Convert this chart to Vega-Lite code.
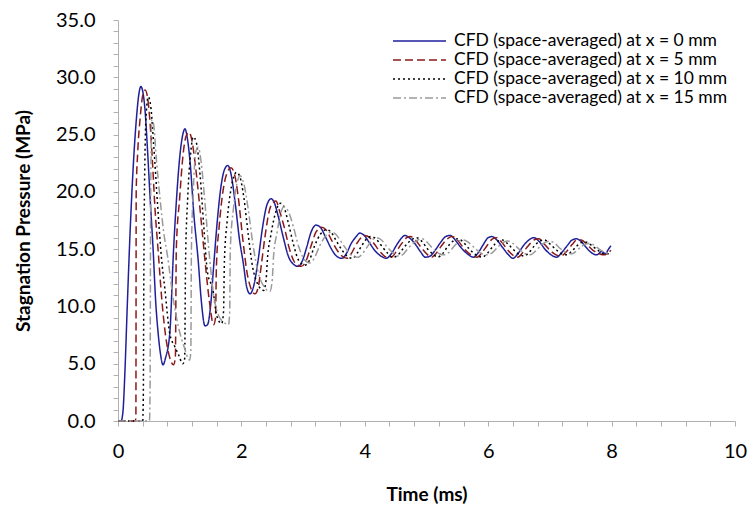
{
  "$schema": "https://vega.github.io/schema/vega-lite/v6.json",
  "width": 617,
  "height": 401,
  "autosize": "none",
  "padding": {"left": 118, "top": 20, "right": 21, "bottom": 91},
  "background": "white",
  "config": {"view": {"stroke": null}, "font": "Lato"},
  "data": {"values": [
{"s":"0","t":0,"p":0},{"s":"0","t":0.05,"p":0},{"s":"0","t":0.08,"p":0.8},{"s":"0","t":0.11,"p":4},{"s":"0","t":0.15,"p":10},{"s":"0","t":0.2,"p":17},{"s":"0","t":0.25,"p":22.5},{"s":"0","t":0.3,"p":26.5},{"s":"0","t":0.34,"p":28.6},{"s":"0","t":0.37,"p":29.2},{"s":"0","t":0.4,"p":28.8},{"s":"0","t":0.44,"p":27},{"s":"0","t":0.48,"p":23.5},{"s":"0","t":0.52,"p":19.5},{"s":"0","t":0.57,"p":14.9},{"s":"0","t":0.61,"p":10.5},{"s":"0","t":0.65,"p":7.7},{"s":"0","t":0.69,"p":5.8},{"s":"0","t":0.73,"p":4.9},{"s":"0","t":0.77,"p":5.5},{"s":"0","t":0.84,"p":7.7},{"s":"0","t":0.9,"p":14.9},{"s":"0","t":0.95,"p":19.5},{"s":"0","t":1.0,"p":23},{"s":"0","t":1.05,"p":25},{"s":"0","t":1.086,"p":25.5},{"s":"0","t":1.12,"p":24.8},{"s":"0","t":1.17,"p":22.5},{"s":"0","t":1.23,"p":18},{"s":"0","t":1.3,"p":14},{"s":"0","t":1.35,"p":10.5},{"s":"0","t":1.41,"p":8.3},{"s":"0","t":1.45,"p":8.4},{"s":"0","t":1.5,"p":10},{"s":"0","t":1.55,"p":13.5},{"s":"0","t":1.61,"p":17.5},{"s":"0","t":1.67,"p":20.5},{"s":"0","t":1.73,"p":22},{"s":"0","t":1.78,"p":22.3},{"s":"0","t":1.83,"p":21.6},{"s":"0","t":1.9,"p":19},{"s":"0","t":1.97,"p":15.8},{"s":"0","t":2.03,"p":13.8},{"s":"0","t":2.09,"p":11.6},{"s":"0","t":2.14,"p":11.1},{"s":"0","t":2.2,"p":11.8},{"s":"0","t":2.27,"p":14},{"s":"0","t":2.34,"p":16.8},{"s":"0","t":2.41,"p":18.8},{"s":"0","t":2.48,"p":19.4},{"s":"0","t":2.53,"p":19.1},{"s":"0","t":2.6,"p":17.8},{"s":"0","t":2.68,"p":16},{"s":"0","t":2.76,"p":14.4},{"s":"0","t":2.84,"p":13.7},{"s":"0","t":2.92,"p":13.5},{"s":"0","t":2.99,"p":14},{"s":"0","t":3.06,"p":15.2},{"s":"0","t":3.13,"p":16.5},{"s":"0","t":3.21,"p":17.1},{"s":"0","t":3.28,"p":16.9},{"s":"0","t":3.36,"p":16.1},{"s":"0","t":3.45,"p":15.1},{"s":"0","t":3.54,"p":14.4},{"s":"0","t":3.63,"p":14.2},{"s":"0","t":3.7,"p":14.6},{"s":"0","t":3.78,"p":15.5},{"s":"0","t":3.86,"p":16.1},{"s":"0","t":3.92,"p":16.4},{"s":"0","t":3.99,"p":16.2},{"s":"0","t":4.07,"p":15.6},{"s":"0","t":4.16,"p":14.9},{"s":"0","t":4.26,"p":14.4},{"s":"0","t":4.35,"p":14.2},{"s":"0","t":4.43,"p":14.6},{"s":"0","t":4.52,"p":15.4},{"s":"0","t":4.6,"p":16.0},{"s":"0","t":4.65,"p":16.2},{"s":"0","t":4.72,"p":16.0},{"s":"0","t":4.81,"p":15.5},{"s":"0","t":4.9,"p":14.8},{"s":"0","t":4.98,"p":14.3},{"s":"0","t":5.06,"p":14.4},{"s":"0","t":5.14,"p":14.9},{"s":"0","t":5.23,"p":15.6},{"s":"0","t":5.31,"p":16.1},{"s":"0","t":5.38,"p":16.2},{"s":"0","t":5.45,"p":15.9},{"s":"0","t":5.55,"p":15.2},{"s":"0","t":5.66,"p":14.6},{"s":"0","t":5.76,"p":14.3},{"s":"0","t":5.84,"p":14.7},{"s":"0","t":5.92,"p":15.4},{"s":"0","t":6.0,"p":16.0},{"s":"0","t":6.06,"p":16.1},{"s":"0","t":6.14,"p":15.8},{"s":"0","t":6.24,"p":15.1},{"s":"0","t":6.33,"p":14.5},{"s":"0","t":6.4,"p":14.2},{"s":"0","t":6.48,"p":14.6},{"s":"0","t":6.57,"p":15.3},{"s":"0","t":6.66,"p":15.8},{"s":"0","t":6.74,"p":16.0},{"s":"0","t":6.82,"p":15.7},{"s":"0","t":6.92,"p":15.0},{"s":"0","t":7.02,"p":14.5},{"s":"0","t":7.11,"p":14.3},{"s":"0","t":7.19,"p":14.7},{"s":"0","t":7.28,"p":15.3},{"s":"0","t":7.36,"p":15.8},{"s":"0","t":7.43,"p":15.9},{"s":"0","t":7.5,"p":15.7},{"s":"0","t":7.58,"p":15.2},{"s":"0","t":7.67,"p":14.7},{"s":"0","t":7.76,"p":14.5},{"s":"0","t":7.84,"p":14.8},{"s":"0","t":7.9,"p":14.6},{"s":"0","t":7.95,"p":15.0},{"s":"0","t":7.99,"p":15.3},
{"s":"5","t":0,"p":0},{"s":"5","t":0.28,"p":0},{"s":"5","t":0.29,"p":0.3},{"s":"5","t":0.295,"p":20},{"s":"5","t":0.32,"p":23.5},{"s":"5","t":0.36,"p":26.5},{"s":"5","t":0.4,"p":28.4},{"s":"5","t":0.44,"p":28.9},{"s":"5","t":0.48,"p":28.2},{"s":"5","t":0.52,"p":26},{"s":"5","t":0.56,"p":22.5},{"s":"5","t":0.6,"p":18.5},{"s":"5","t":0.65,"p":14.9},{"s":"5","t":0.71,"p":10.6},{"s":"5","t":0.77,"p":7.5},{"s":"5","t":0.84,"p":5.5},{"s":"5","t":0.9,"p":4.9},{"s":"5","t":0.93,"p":5.6},{"s":"5","t":0.945,"p":15},{"s":"5","t":1.0,"p":19.5},{"s":"5","t":1.05,"p":23},{"s":"5","t":1.1,"p":24.8},{"s":"5","t":1.15,"p":25.2},{"s":"5","t":1.19,"p":24.7},{"s":"5","t":1.25,"p":22.5},{"s":"5","t":1.32,"p":19},{"s":"5","t":1.41,"p":14.0},{"s":"5","t":1.48,"p":10.5},{"s":"5","t":1.55,"p":8.4},{"s":"5","t":1.58,"p":9},{"s":"5","t":1.595,"p":13.5},{"s":"5","t":1.64,"p":17},{"s":"5","t":1.7,"p":20},{"s":"5","t":1.77,"p":21.7},{"s":"5","t":1.83,"p":22.1},{"s":"5","t":1.88,"p":21.7},{"s":"5","t":1.95,"p":19.5},{"s":"5","t":2.02,"p":16},{"s":"5","t":2.09,"p":13},{"s":"5","t":2.16,"p":11.5},{"s":"5","t":2.22,"p":11.1},{"s":"5","t":2.27,"p":11.6},{"s":"5","t":2.32,"p":13.5},{"s":"5","t":2.38,"p":16},{"s":"5","t":2.45,"p":18.3},{"s":"5","t":2.52,"p":19.1},{"s":"5","t":2.56,"p":19.2},{"s":"5","t":2.62,"p":18.3},{"s":"5","t":2.7,"p":16.8},{"s":"5","t":2.78,"p":15.0},{"s":"5","t":2.87,"p":13.8},{"s":"5","t":2.97,"p":13.5},{"s":"5","t":3.05,"p":14.0},{"s":"5","t":3.13,"p":15.3},{"s":"5","t":3.21,"p":16.5},{"s":"5","t":3.3,"p":16.9},{"s":"5","t":3.37,"p":16.7},{"s":"5","t":3.45,"p":15.9},{"s":"5","t":3.54,"p":15.0},{"s":"5","t":3.63,"p":14.4},{"s":"5","t":3.71,"p":14.2},{"s":"5","t":3.78,"p":14.6},{"s":"5","t":3.86,"p":15.4},{"s":"5","t":3.94,"p":16.0},{"s":"5","t":4.0,"p":16.2},{"s":"5","t":4.08,"p":16.0},{"s":"5","t":4.16,"p":15.4},{"s":"5","t":4.26,"p":14.7},{"s":"5","t":4.35,"p":14.3},{"s":"5","t":4.43,"p":14.3},{"s":"5","t":4.51,"p":14.8},{"s":"5","t":4.6,"p":15.5},{"s":"5","t":4.68,"p":16.0},{"s":"5","t":4.74,"p":16.1},{"s":"5","t":4.82,"p":15.8},{"s":"5","t":4.92,"p":15.1},{"s":"5","t":5.02,"p":14.5},{"s":"5","t":5.08,"p":14.3},{"s":"5","t":5.15,"p":14.6},{"s":"5","t":5.23,"p":15.2},{"s":"5","t":5.32,"p":15.8},{"s":"5","t":5.41,"p":16.1},{"s":"5","t":5.5,"p":15.8},{"s":"5","t":5.6,"p":15.1},{"s":"5","t":5.72,"p":14.5},{"s":"5","t":5.82,"p":14.3},{"s":"5","t":5.9,"p":14.7},{"s":"5","t":5.98,"p":15.3},{"s":"5","t":6.07,"p":15.9},{"s":"5","t":6.14,"p":16.0},{"s":"5","t":6.22,"p":15.6},{"s":"5","t":6.32,"p":14.9},{"s":"5","t":6.42,"p":14.4},{"s":"5","t":6.48,"p":14.3},{"s":"5","t":6.56,"p":14.7},{"s":"5","t":6.65,"p":15.3},{"s":"5","t":6.74,"p":15.8},{"s":"5","t":6.82,"p":15.9},{"s":"5","t":6.9,"p":15.5},{"s":"5","t":7.0,"p":14.9},{"s":"5","t":7.1,"p":14.5},{"s":"5","t":7.18,"p":14.4},{"s":"5","t":7.27,"p":14.8},{"s":"5","t":7.36,"p":15.4},{"s":"5","t":7.44,"p":15.8},{"s":"5","t":7.51,"p":15.8},{"s":"5","t":7.6,"p":15.4},{"s":"5","t":7.7,"p":14.9},{"s":"5","t":7.8,"p":14.6},{"s":"5","t":7.88,"p":14.5},{"s":"5","t":7.95,"p":14.7},{"s":"5","t":7.99,"p":14.9},
{"s":"10","t":0,"p":0},{"s":"10","t":0.4,"p":0},{"s":"10","t":0.41,"p":2},{"s":"10","t":0.42,"p":14},{"s":"10","t":0.44,"p":24},{"s":"10","t":0.46,"p":27},{"s":"10","t":0.49,"p":28.3},{"s":"10","t":0.53,"p":27.5},{"s":"10","t":0.58,"p":24},{"s":"10","t":0.64,"p":19},{"s":"10","t":0.7,"p":14.5},{"s":"10","t":0.76,"p":11.5},{"s":"10","t":0.84,"p":7.6},{"s":"10","t":0.92,"p":6.5},{"s":"10","t":0.98,"p":5.8},{"s":"10","t":1.05,"p":5.0},{"s":"10","t":1.08,"p":5.4},{"s":"10","t":1.095,"p":14},{"s":"10","t":1.13,"p":19.5},{"s":"10","t":1.18,"p":23.5},{"s":"10","t":1.22,"p":24.8},{"s":"10","t":1.27,"p":24.3},{"s":"10","t":1.33,"p":21.5},{"s":"10","t":1.39,"p":17},{"s":"10","t":1.45,"p":13},{"s":"10","t":1.54,"p":11.4},{"s":"10","t":1.6,"p":9.2},{"s":"10","t":1.68,"p":8.5},{"s":"10","t":1.71,"p":9.5},{"s":"10","t":1.725,"p":14},{"s":"10","t":1.77,"p":17.5},{"s":"10","t":1.84,"p":20.5},{"s":"10","t":1.92,"p":21.7},{"s":"10","t":1.97,"p":21.4},{"s":"10","t":2.04,"p":19.5},{"s":"10","t":2.11,"p":16.3},{"s":"10","t":2.18,"p":13.5},{"s":"10","t":2.26,"p":12},{"s":"10","t":2.36,"p":11.4},{"s":"10","t":2.4,"p":12.3},{"s":"10","t":2.42,"p":14},{"s":"10","t":2.48,"p":16.3},{"s":"10","t":2.56,"p":18.3},{"s":"10","t":2.63,"p":19.0},{"s":"10","t":2.68,"p":18.8},{"s":"10","t":2.76,"p":17.3},{"s":"10","t":2.84,"p":15.5},{"s":"10","t":2.93,"p":14.0},{"s":"10","t":3.03,"p":13.6},{"s":"10","t":3.1,"p":14.0},{"s":"10","t":3.18,"p":15.2},{"s":"10","t":3.28,"p":16.3},{"s":"10","t":3.38,"p":16.7},{"s":"10","t":3.45,"p":16.5},{"s":"10","t":3.53,"p":15.8},{"s":"10","t":3.62,"p":15.0},{"s":"10","t":3.71,"p":14.4},{"s":"10","t":3.8,"p":14.2},{"s":"10","t":3.87,"p":14.6},{"s":"10","t":3.95,"p":15.3},{"s":"10","t":4.03,"p":15.9},{"s":"10","t":4.1,"p":16.1},{"s":"10","t":4.18,"p":15.9},{"s":"10","t":4.27,"p":15.3},{"s":"10","t":4.36,"p":14.7},{"s":"10","t":4.45,"p":14.3},{"s":"10","t":4.52,"p":14.4},{"s":"10","t":4.6,"p":14.9},{"s":"10","t":4.69,"p":15.5},{"s":"10","t":4.78,"p":15.9},{"s":"10","t":4.84,"p":16.0},{"s":"10","t":4.92,"p":15.7},{"s":"10","t":5.02,"p":15.0},{"s":"10","t":5.12,"p":14.5},{"s":"10","t":5.18,"p":14.3},{"s":"10","t":5.26,"p":14.6},{"s":"10","t":5.34,"p":15.2},{"s":"10","t":5.43,"p":15.7},{"s":"10","t":5.5,"p":15.9},{"s":"10","t":5.58,"p":15.7},{"s":"10","t":5.68,"p":15.1},{"s":"10","t":5.8,"p":14.5},{"s":"10","t":5.9,"p":14.3},{"s":"10","t":5.98,"p":14.6},{"s":"10","t":6.07,"p":15.2},{"s":"10","t":6.16,"p":15.7},{"s":"10","t":6.23,"p":15.8},{"s":"10","t":6.31,"p":15.5},{"s":"10","t":6.42,"p":14.9},{"s":"10","t":6.52,"p":14.5},{"s":"10","t":6.58,"p":14.4},{"s":"10","t":6.66,"p":14.7},{"s":"10","t":6.75,"p":15.3},{"s":"10","t":6.84,"p":15.7},{"s":"10","t":6.91,"p":15.8},{"s":"10","t":6.99,"p":15.5},{"s":"10","t":7.09,"p":15.0},{"s":"10","t":7.19,"p":14.6},{"s":"10","t":7.27,"p":14.5},{"s":"10","t":7.35,"p":14.8},{"s":"10","t":7.44,"p":15.3},{"s":"10","t":7.53,"p":15.6},{"s":"10","t":7.6,"p":15.6},{"s":"10","t":7.68,"p":15.3},{"s":"10","t":7.78,"p":14.9},{"s":"10","t":7.88,"p":14.6},{"s":"10","t":7.95,"p":14.6},{"s":"10","t":7.99,"p":14.7},
{"s":"15","t":0,"p":0},{"s":"15","t":0.51,"p":0},{"s":"15","t":0.52,"p":3},{"s":"15","t":0.53,"p":20},{"s":"15","t":0.55,"p":26.3},{"s":"15","t":0.58,"p":25.8},{"s":"15","t":0.62,"p":23},{"s":"15","t":0.68,"p":19.5},{"s":"15","t":0.74,"p":16.5},{"s":"15","t":0.8,"p":14.5},{"s":"15","t":0.9,"p":10.5},{"s":"15","t":0.98,"p":8.2},{"s":"15","t":1.07,"p":6.5},{"s":"15","t":1.16,"p":5.3},{"s":"15","t":1.18,"p":6},{"s":"15","t":1.19,"p":15},{"s":"15","t":1.22,"p":20},{"s":"15","t":1.26,"p":23.5},{"s":"15","t":1.3,"p":23.9},{"s":"15","t":1.35,"p":22.5},{"s":"15","t":1.41,"p":19},{"s":"15","t":1.48,"p":14.5},{"s":"15","t":1.55,"p":11},{"s":"15","t":1.63,"p":9.2},{"s":"15","t":1.72,"p":8.6},{"s":"15","t":1.79,"p":8.4},{"s":"15","t":1.81,"p":9.5},{"s":"15","t":1.82,"p":15},{"s":"15","t":1.87,"p":18.5},{"s":"15","t":1.93,"p":20.8},{"s":"15","t":1.98,"p":21.4},{"s":"15","t":2.04,"p":20.7},{"s":"15","t":2.11,"p":18.5},{"s":"15","t":2.19,"p":15.3},{"s":"15","t":2.27,"p":13},{"s":"15","t":2.37,"p":11.7},{"s":"15","t":2.46,"p":11.3},{"s":"15","t":2.5,"p":12.3},{"s":"15","t":2.52,"p":14.3},{"s":"15","t":2.58,"p":16.5},{"s":"15","t":2.64,"p":18.2},{"s":"15","t":2.69,"p":18.7},{"s":"15","t":2.76,"p":18.3},{"s":"15","t":2.84,"p":17.0},{"s":"15","t":2.93,"p":15.2},{"s":"15","t":3.02,"p":14.1},{"s":"15","t":3.11,"p":13.8},{"s":"15","t":3.18,"p":14.2},{"s":"15","t":3.27,"p":15.3},{"s":"15","t":3.37,"p":16.2},{"s":"15","t":3.46,"p":16.5},{"s":"15","t":3.53,"p":16.3},{"s":"15","t":3.61,"p":15.7},{"s":"15","t":3.7,"p":15.0},{"s":"15","t":3.8,"p":14.4},{"s":"15","t":3.89,"p":14.3},{"s":"15","t":3.96,"p":14.6},{"s":"15","t":4.04,"p":15.2},{"s":"15","t":4.12,"p":15.8},{"s":"15","t":4.19,"p":16.0},{"s":"15","t":4.27,"p":15.8},{"s":"15","t":4.36,"p":15.2},{"s":"15","t":4.45,"p":14.7},{"s":"15","t":4.54,"p":14.4},{"s":"15","t":4.61,"p":14.5},{"s":"15","t":4.69,"p":15.0},{"s":"15","t":4.78,"p":15.5},{"s":"15","t":4.86,"p":15.8},{"s":"15","t":4.93,"p":15.9},{"s":"15","t":5.01,"p":15.6},{"s":"15","t":5.11,"p":15.0},{"s":"15","t":5.21,"p":14.6},{"s":"15","t":5.28,"p":14.5},{"s":"15","t":5.36,"p":14.7},{"s":"15","t":5.44,"p":15.2},{"s":"15","t":5.53,"p":15.7},{"s":"15","t":5.6,"p":15.8},{"s":"15","t":5.68,"p":15.6},{"s":"15","t":5.78,"p":15.1},{"s":"15","t":5.9,"p":14.6},{"s":"15","t":5.99,"p":14.5},{"s":"15","t":6.07,"p":14.7},{"s":"15","t":6.16,"p":15.2},{"s":"15","t":6.25,"p":15.6},{"s":"15","t":6.32,"p":15.7},{"s":"15","t":6.4,"p":15.5},{"s":"15","t":6.5,"p":15.0},{"s":"15","t":6.6,"p":14.6},{"s":"15","t":6.68,"p":14.5},{"s":"15","t":6.76,"p":14.8},{"s":"15","t":6.85,"p":15.3},{"s":"15","t":6.93,"p":15.6},{"s":"15","t":7.0,"p":15.7},{"s":"15","t":7.08,"p":15.5},{"s":"15","t":7.18,"p":15.0},{"s":"15","t":7.28,"p":14.7},{"s":"15","t":7.36,"p":14.6},{"s":"15","t":7.44,"p":14.9},{"s":"15","t":7.53,"p":15.3},{"s":"15","t":7.62,"p":15.5},{"s":"15","t":7.7,"p":15.4},{"s":"15","t":7.8,"p":15.0},{"s":"15","t":7.9,"p":14.7},{"s":"15","t":7.99,"p":14.6}
  ]},
  "mark": {"type": "line", "strokeWidth": 1.5, "interpolate": "monotone"},
  "encoding": {
    "x": {
      "field": "t", "type": "quantitative",
      "scale": {"domain": [0, 10], "nice": false, "zero": false},
      "axis": {
        "title": "Time (ms)",
        "values": [0,0.4,0.8,1.2,1.6,2,2.4,2.8,3.2,3.6,4,4.4,4.8,5.2,5.6,6,6.4,6.8,7.2,7.6,8,8.4,8.8,9.2,9.6,10],
        "labelExpr": "datum.value % 2 === 0 ? format(datum.value, 'd') : ''",
        "labelOverlap": false, "labelFlush": false,
        "grid": false,
        "domainColor": "#b0b0b0", "tickColor": "#b0b0b0", "tickSize": 5,
        "labelFontSize": 20, "labelColor": "#000", "labelPadding": 15,
        "titleFontSize": 19, "titleFontWeight": "bold", "titleColor": "#000", "titlePadding": 24
      }
    },
    "y": {
      "field": "p", "type": "quantitative",
      "scale": {"domain": [0, 35], "nice": false},
      "axis": {
        "title": "Stagnation Pressure (MPa)",
        "values": [0,1,2,3,4,5,6,7,8,9,10,11,12,13,14,15,16,17,18,19,20,21,22,23,24,25,26,27,28,29,30,31,32,33,34,35],
        "labelExpr": "datum.value % 5 === 0 ? format(datum.value, '.1f') : ''",
        "labelOverlap": false, "labelFlush": false,
        "grid": false,
        "domainColor": "#b0b0b0", "tickColor": "#b0b0b0", "tickSize": 5,
        "labelFontSize": 20, "labelColor": "#000", "labelPadding": 18,
        "titleFontSize": 19, "titleFontWeight": "bold", "titleColor": "#000", "titlePadding": 22
      }
    },
    "color": {
      "field": "s", "type": "nominal",
      "scale": {"domain": ["0", "5", "10", "15"], "range": ["#1f1f9c", "#8b1a1a", "#000000", "#9a9a9a"]},
      "legend": {
        "title": null, "orient": "none", "legendX": 274, "legendY": 11.5,
        "symbolType": "M-1,0H5.24", "symbolSize": 289, "symbolStrokeWidth": 1.5,
        "labelFontSize": 17.5, "labelColor": "#000", "labelOffset": 43, "rowPadding": 1,
        "labelExpr": "'CFD (space-averaged) at x = ' + datum.label + ' mm'",
        "labelLimit": 400
      }
    },
    "strokeDash": {
      "field": "s", "type": "nominal",
      "scale": {"domain": ["0", "5", "10", "15"], "range": [[1, 0], [8, 4], [2, 3], [8, 3, 2, 3]]},
      "legend": {
        "title": null, "orient": "none", "legendX": 274, "legendY": 11.5,
        "symbolType": "M-1,0H5.24", "symbolSize": 289, "symbolStrokeWidth": 1.5,
        "labelFontSize": 17.5, "labelColor": "#000", "labelOffset": 43, "rowPadding": 1,
        "labelExpr": "'CFD (space-averaged) at x = ' + datum.label + ' mm'",
        "labelLimit": 400
      }
    }
  }
}
